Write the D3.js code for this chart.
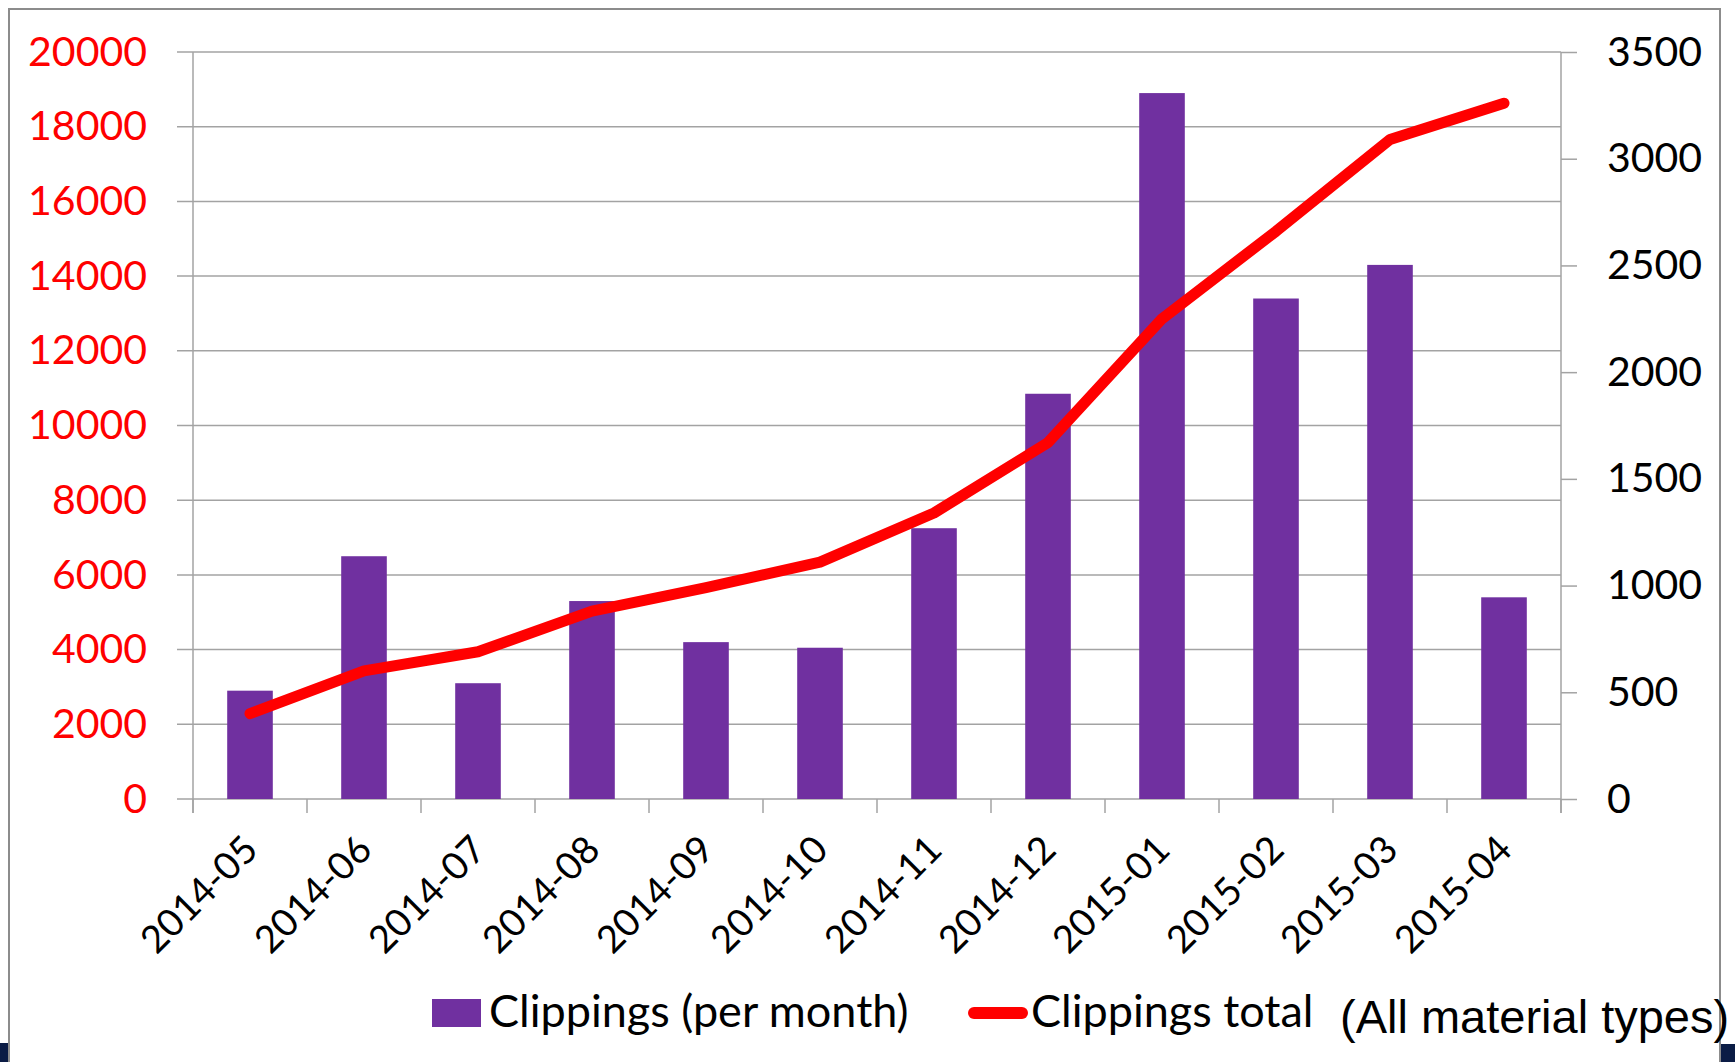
<!DOCTYPE html>
<html>
<head>
<meta charset="utf-8">
<script src="https://cdn.jsdelivr.net/npm/d3@7"></script>
<style>
  body { margin: 0; background: #fff; }
  svg { display: block; }
</style>
</head>
<body>
<svg width="1735" height="1062"></svg>
<script>
var svg = d3.select("svg");

// months on the x axis
var months = ["2014-05", "2014-06", "2014-07", "2014-08", "2014-09", "2014-10",
  "2014-11", "2014-12", "2015-01", "2015-02", "2015-03", "2015-04"];
// clippings per month (left axis, bars)
var perMonth = [2900, 6500, 3100, 5300, 4200, 4050, 7250, 10850, 18900, 13400, 14300, 5400];
// clippings total (right axis, line)
var total = [400, 600, 690, 880, 990, 1110, 1340, 1670, 2250, 2660, 3090, 3260];
var leftTicks = [0, 2000, 4000, 6000, 8000, 10000, 12000, 14000, 16000, 18000, 20000];
var rightTicks = [0, 500, 1000, 1500, 2000, 2500, 3000, 3500];

var plotL = 193, plotR = 1561, plotT = 52, plotB = 799;
var fmt = d3.format("d");

var x = d3.scaleBand().domain(months).range([plotL, plotR]).padding(0);
var yL = d3.scaleLinear().domain([0, 20000]).range([plotB, plotT]);
var yR = d3.scaleLinear().domain([0, 3500]).range([plotB, plotT]);

// slide corners
svg.append("rect").attr("x", 0).attr("y", 1043).attr("width", 9).attr("height", 20).attr("fill", "#0b1c45");
svg.append("rect").attr("x", 1721).attr("y", 1044).attr("width", 14).attr("height", 20).attr("fill", "#0b1c45");

// chart border
svg.append("rect")
  .attr("x", 9).attr("y", 9)
  .attr("width", 1711).attr("height", 1100)
  .attr("fill", "none")
  .attr("stroke", "#8c8c8c")
  .attr("stroke-width", 2);

// gridlines
svg.append("g")
  .selectAll("line")
  .data(leftTicks)
  .enter().append("line")
  .attr("x1", plotL - 16).attr("x2", plotR)
  .attr("y1", function(d) { return yL(d); })
  .attr("y2", function(d) { return yL(d); })
  .attr("stroke", "#a3a3a3")
  .attr("stroke-width", 1.5);

// left axis
var gl = svg.append("g")
  .attr("transform", "translate(" + plotL + ",0)")
  .call(d3.axisLeft(yL).tickValues(leftTicks).tickFormat(fmt).tickSize(0).tickPadding(46));
gl.select(".domain").remove();
gl.append("line").attr("y1", plotT).attr("y2", plotB + 14).attr("stroke", "#a3a3a3").attr("stroke-width", 1.5);
gl.selectAll("text")
  .attr("fill", "#ff0000")
  .style("font-family", "Lato")
  .style("font-size", "41px");

// right axis
var gr = svg.append("g")
  .attr("transform", "translate(" + plotR + ",0)")
  .call(d3.axisRight(yR).tickValues(rightTicks).tickFormat(fmt).tickSizeInner(16).tickSizeOuter(0).tickPadding(30));
gr.select(".domain").remove();
gr.append("line").attr("y1", plotT).attr("y2", plotB + 14).attr("stroke", "#a3a3a3").attr("stroke-width", 1.5);
gr.selectAll(".tick line").attr("stroke", "#a3a3a3").attr("stroke-width", 1.5);
gr.selectAll("text")
  .attr("fill", "#000")
  .style("font-family", "Lato")
  .style("font-size", "41px");

// x axis tick marks at category edges
svg.append("g")
  .selectAll("line")
  .data(d3.range(months.length + 1))
  .enter().append("line")
  .attr("x1", function(i) { return plotL + i * x.step(); })
  .attr("x2", function(i) { return plotL + i * x.step(); })
  .attr("y1", plotB).attr("y2", plotB + 14)
  .attr("stroke", "#a3a3a3")
  .attr("stroke-width", 1.5);

// x labels
svg.append("g")
  .selectAll("text")
  .data(months)
  .enter().append("text")
  .attr("transform", function(d) {
    return "translate(" + (x(d) + x.bandwidth() / 2 + 10) + "," + 852 + ") rotate(-45)";
  })
  .attr("text-anchor", "end")
  .style("font-family", "Lato")
  .style("font-size", "38px")
  .attr("fill", "#000")
  .text(function(d) { return d; });

// bars
var bw = x.bandwidth() * 0.4;
svg.append("g")
  .selectAll("rect")
  .data(perMonth)
  .enter().append("rect")
  .attr("x", function(d, i) { return x(months[i]) + (x.bandwidth() - bw) / 2; })
  .attr("y", function(d) { return yL(d); })
  .attr("width", bw)
  .attr("height", function(d) { return plotB - yL(d); })
  .attr("fill", "#7030a0");

// total line
var line = d3.line()
  .x(function(d, i) { return x(months[i]) + x.bandwidth() / 2; })
  .y(function(d) { return yR(d); });

svg.append("path")
  .datum(total)
  .attr("d", line)
  .attr("fill", "none")
  .attr("stroke", "#ff0000")
  .attr("stroke-width", 11)
  .attr("stroke-linecap", "round")
  .attr("stroke-linejoin", "round");

// legend
var lg = svg.append("g").style("font-family", "Lato").style("font-size", "45px");
lg.append("rect").attr("x", 432).attr("y", 999).attr("width", 49).attr("height", 28).attr("fill", "#7030a0");
lg.append("text").attr("x", 489).attr("y", 1027).text("Clippings (per month)");
lg.append("line").attr("x1", 974).attr("x2", 1022).attr("y1", 1013).attr("y2", 1013)
  .attr("stroke", "#ff0000").attr("stroke-width", 12).attr("stroke-linecap", "round");
lg.append("text").attr("x", 1031).attr("y", 1027).text("Clippings total");

svg.append("text")
  .attr("x", 1340).attr("y", 1033)
  .style("font-family", "Liberation Sans")
  .style("font-size", "47px")
  .text("(All material types)");
</script>
</body>
</html>
